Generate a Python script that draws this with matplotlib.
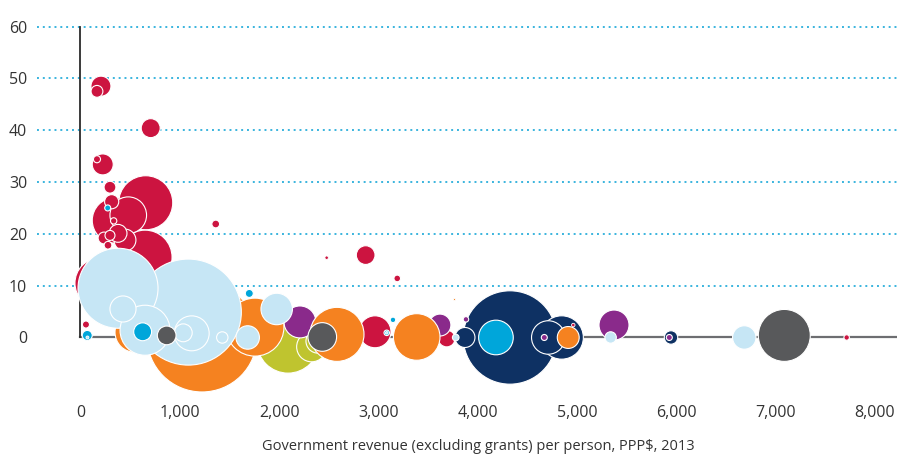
import matplotlib
matplotlib.use("Agg")
import matplotlib.pyplot as plt
import numpy as np

plt.rcParams['font.family'] = ['Open Sans', 'DejaVu Sans']

# revenue per person (PPP$), y value (%), bubble size (relative) per region colour
navy_x = [4325, 4846, 4711, 3872, 5947]
navy_y = [0, 0, 0, 0, 0]
navy_s = [872, 188, 112, 40, 18]

red_x = [206, 166, 707, 224, 166, 297, 657, 314, 347, 481, 334, 1362,
         237, 297, 378, 448, 277, 650, 196, 55, 2479, 2872, 3190, 2966,
         3688, 4963, 7716]
red_y = [48.5, 47.5, 40.4, 33.4, 34.4, 29.0, 26.0, 26.2, 22.6, 23.6, 22.5, 21.9,
         19.2, 19.7, 20.1, 18.8, 17.8, 15.5, 10.5, 2.5, 15.4, 15.9, 11.4, 1.1,
         -0.2, 2.4, 0]
red_s = [40, 14, 36, 44, 5, 14, 292, 20, 206, 134, 4, 6,
         14, 10, 32, 48, 6, 292, 250, 5, 1.2, 35, 4.4, 102,
         28, 1.2, 3]

olive_x = [2090, 2328, 2392]
olive_y = [-0.9, -1.8, -0.7]
olive_s = [384, 90, 58]

purple_x = [2210, 3620, 3882, 4671, 5373, 5930]
purple_y = [3.0, 2.4, 3.5, 0, 2.4, 0]
purple_s = [102, 48, 3, 3.6, 90, 3.6]

orange_x = [1224, 549, 1757, 2583, 3386, 3764, 4912]
orange_y = [0.1, 1.0, 2.0, 0.6, 0.1, 7.4, 0]
orange_s = [1210, 160, 336, 292, 217, 0.4, 48]

lblue_x = [378, 1086, 428, 650, 1035, 1120, 1428, 1684, 1976, 3084, 3779, 5339, 6685, 70]
lblue_y = [9.5, 4.9, 5.5, 1.4, 0.9, 0.8, 0, 0, 5.5, 0.9, 0, 0, 0, 0]
lblue_s = [640, 1124, 68, 250, 32, 122, 13, 55, 99, 0.7, 4.4, 13, 55, 0.9]

cyan_x = [274, 68, 626, 1700, 3084, 3147, 4184]
cyan_y = [25.0, 0.4, 1.1, 8.5, 0.9, 3.4, 0]
cyan_s = [3.6, 10, 32, 6.4, 3, 3, 120]

grey_x = [868, 2435, 7088]
grey_y = [0.4, 0.1, 0.4]
grey_s = [35, 82, 270]

x_ticks = [0, 1000, 2000, 3000, 4000, 5000, 6000, 7000, 8000]
y_ticks = [0, 10, 20, 30, 40, 50, 60]

groups = [
    (navy_x, navy_y, navy_s, '#0e3163'),
    (red_x, red_y, red_s, '#cc1440'),
    (olive_x, olive_y, olive_s, '#bfc42f'),
    (purple_x, purple_y, purple_s, '#8a2a8b'),
    (orange_x, orange_y, orange_s, '#f58220'),
    (lblue_x, lblue_y, lblue_s, '#c6e6f5'),
    (cyan_x, cyan_y, cyan_s, '#00a6da'),
    (grey_x, grey_y, grey_s, '#58595b'),
]

fig = plt.figure(figsize=(8.97, 4.57), dpi=100)
ax = fig.add_axes([37 / 897, 62 / 457, 860 / 897, 385 / 457])
ax.set_xlim(-438, 8223)
ax.set_ylim(-11.1, 63.2)

# gridlines and axis lines
for yv in y_ticks[1:]:
    ax.axhline(yv, color='#3ab4de', lw=1.4, linestyle=(0, (1, 2.0)), zorder=0)
ax.plot([0, 8223], [0, 0], color='#6d6e71', lw=1.6, zorder=0.5)
ax.plot([0, 0], [0, 60], color='#2b2b2b', lw=1.3, zorder=0.5)

scale = 5.184
for i, (gx, gy, gs, col) in enumerate(groups):
    gx, gy, gs = np.array(gx), np.array(gy), np.array(gs, dtype=float)
    order = np.argsort(-gs)
    gx, gy, gs = gx[order], gy[order], gs[order]
    big = gs > 1.5
    ax.scatter(gx[big], gy[big], s=gs[big] * scale, color=col,
               edgecolors='white', linewidths=0.8, zorder=2 + i)
    ax.scatter(gx[~big], gy[~big], s=gs[~big] * scale, color=col,
               edgecolors='white', linewidths=0.6, zorder=20)

for sp in ax.spines.values():
    sp.set_visible(False)
ax.set_xticks(x_ticks)
ax.set_xticklabels([f"{v:,}" for v in x_ticks])
ax.set_yticks(y_ticks)
ax.set_yticklabels([str(v) for v in y_ticks])
ax.tick_params(length=0, labelsize=11.5, colors='#333333')
ax.tick_params(axis='y', pad=7)
ax.tick_params(axis='x', pad=7)

fig.text(478 / 897, 10 / 457, "Government revenue (excluding grants) per person, PPP$, 2013",
         ha='center', va='center', fontsize=10.5, color='#333333')

fig.savefig("out.png", dpi=100)
